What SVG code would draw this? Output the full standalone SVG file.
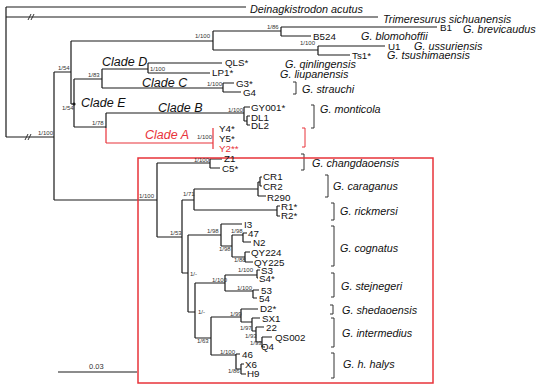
<svg xmlns="http://www.w3.org/2000/svg" width="553" height="385" viewBox="0 0 553 385">
<style>
.b{fill:none;stroke:#1a1a1a;stroke-width:1.2}
.r{fill:none;stroke:#e8333a;stroke-width:1.2}
.k{fill:none;stroke:#333;stroke-width:1}
.kr{fill:none;stroke:#e8333a;stroke-width:1}
.s{font-family:"Liberation Sans",Arial,sans-serif;font-size:6px;fill:#333}
.l{font-family:"Liberation Sans",Arial,sans-serif;font-size:9.8px;fill:#111}
.sp{font-family:"Liberation Sans",Arial,sans-serif;font-size:10.8px;font-style:italic;fill:#111}
.cl{font-family:"Liberation Sans",Arial,sans-serif;font-size:12.5px;font-style:italic;fill:#111}
</style>
<rect width="553" height="385" fill="#fff"/>
<g id="connectors">
<path class="b" d="M6 7H246M6 7V137M6 17H378M6 137H54"/>
<path class="k" d="M28 20L31 14M31 20L34 14M25 140L28 134M28 140L31 134"/>
<path class="b" d="M54 72V200M54 72H71M71 41V104M71 41H213M213 31V50M213 31H281M281 27V36M281 27H437M281 36H311M213 50H318M318 46V55M318 46H385M318 55H350"/>
<path class="b" d="M71 104H74M74 79V127M74 79H102M102 69V88M102 69H148M148 63V73M148 63H222M148 73H210M102 88H223M223 83V92M223 83H234M223 92H241"/>
<path class="b" d="M74 127H106M106 113V128M106 113H244M244 107V121M244 107H250M244 121H247M247 116V125M247 116H250M247 125H250"/>
<path class="r" d="M106 128V143M106 143H213M213 128V149"/>
<circle cx="74" cy="104" r="1.6" fill="#1a1a1a"/>
<path class="b" d="M54 200H157M157 163V237M157 163H210M210 159V168M210 159H222M210 168H220"/>
<path class="b" d="M157 237H182M182 200V273M182 200H194M194 189V210M194 189H258M258 182V196M258 196H266M258 182H260M260 177V186M260 177H262M260 186H262M194 210H277M277 206V216M277 206H280M277 216H280"/>
<path class="b" d="M182 273H188M188 235V312M188 235H221M221 224V246M221 224H242M221 246H232M232 235V257M232 235H243M243 233V242M243 233H247M243 242H251M232 257H245M245 252V262M245 252H250M245 262H253"/>
<path class="b" d="M188 312H195M195 283V338M195 283H225M225 275V291M225 275H257M257 270V278M257 270H260M257 278H258M225 291H253M253 290V298M253 290H259M253 298H257"/>
<path class="b" d="M195 338H211M211 317V355M211 317H241M241 309V322M241 309H258M241 322H252M252 318V331M252 318H260M252 331H256M256 327V342M256 327H264M256 342H262M262 337V347M262 337H272M262 347H265"/>
<path class="b" d="M211 355H236M236 354V369M236 354H240M236 369H241M241 364V374M241 364H244M241 374H246"/>
<path class="b" d="M58 372H137"/>
</g>
<g id="brackets">
<path class="k" d="M293 82H296V94H293M311 105H314V128H311M301 154H304V170H301M325 175H328V197H325M331 203H334V220H331M331 226H334V266H331M331 273H334V297H331M330 305H333V314H330M331 318H334V347H331M331 353H334V378H331"/>
<path class="kr" d="M302 128H305V147H302"/>
</g>
<rect id="box" x="138" y="158" width="295" height="225" fill="none" stroke="#e8333a" stroke-width="1.5"/>
<g id="outgroups">
<text class="sp" x="250" y="13">Deinagkistrodon acutus</text>
<text class="sp" x="383" y="23">Trimeresurus sichuanensis</text>
<text class="l" x="440" y="31">B1</text><text class="sp" x="463" y="33">G. brevicaudus</text>
<text class="l" x="313" y="40">B524</text><text class="sp" x="361" y="40">G. blomohoffii</text>
<text class="l" x="388" y="50">U1</text><text class="sp" x="414" y="50">G. ussuriensis</text>
<text class="l" x="352" y="59">Ts1*</text><text class="sp" x="387" y="59">G. tsushimaensis</text>
</g>
<g id="cladeDCE">
<text class="l" x="225" y="66">QLS*</text><text class="sp" x="285" y="68">G. qinlingensis</text>
<text class="l" x="212" y="76">LP1*</text><text class="sp" x="280" y="78">G. liupanensis</text>
<text class="l" x="236" y="87">G3*</text><text class="l" x="243" y="96">G4</text><text class="sp" x="302" y="93">G. strauchi</text>
<text class="cl" x="102" y="66">Clade D</text>
<text class="cl" x="142" y="87">Clade C</text>
<text class="cl" x="81" y="107">Clade E</text>
<text class="cl" x="158" y="112">Clade B</text>
<text class="l" x="251" y="111">GY001*</text><text class="l" x="251" y="120.5">DL1</text><text class="l" x="251" y="129">DL2</text>
<text class="sp" x="320" y="113">G. monticola</text>
</g>
<g id="cladeA">
<text class="cl" x="145" y="139" style="fill:#e8333a">Clade A</text>
<text class="l" x="219" y="132">Y4*</text><text class="l" x="219" y="142">Y5*</text><text class="l" x="219" y="152" style="fill:#e8333a">Y2**</text>
</g>
<g id="lower">
<text class="l" x="224" y="162">Z1</text><text class="l" x="222" y="172">C5*</text><text class="sp" x="312" y="167">G. changdaoensis</text>
<text class="l" x="263" y="180">CR1</text><text class="l" x="263" y="190">CR2</text><text class="l" x="267" y="201">R290</text><text class="sp" x="333" y="190">G. caraganus</text>
<text class="l" x="281" y="210">R1*</text><text class="l" x="281" y="219">R2*</text><text class="sp" x="340" y="215">G. rickmersi</text>
<text class="l" x="244" y="228">I3</text><text class="l" x="248" y="237">47</text><text class="l" x="253" y="246">N2</text><text class="l" x="251" y="256">QY224</text><text class="l" x="254" y="265.5">QY225</text><text class="sp" x="340" y="252">G. cognatus</text>
<text class="l" x="261" y="273.5">S3</text><text class="l" x="259" y="281.5">S4*</text><text class="l" x="261" y="294">53</text><text class="l" x="259" y="302">54</text><text class="sp" x="341" y="290">G. stejnegeri</text>
<text class="l" x="260" y="312">D2*</text><text class="sp" x="342" y="314">G. shedaoensis</text>
<text class="l" x="262" y="322">SX1</text><text class="l" x="266" y="331">22</text><text class="l" x="275" y="341">QS002</text><text class="l" x="261" y="350">Q4</text><text class="sp" x="342" y="337">G. intermedius</text>
<text class="l" x="242" y="358">46</text><text class="l" x="245" y="368">X6</text><text class="l" x="247" y="377">H9</text><text class="sp" x="343" y="368">G. h. halys</text>
<text class="s" x="89" y="369" style="font-size:7.5px">0.03</text>
</g>
<g id="support">
<text class="s" x="38" y="135">1/100</text>
<text class="s" x="58" y="70">1/54</text>
<text class="s" x="62" y="110">1/54</text>
<text class="s" x="88" y="77">1/83</text>
<text class="s" x="92" y="125">1/78</text>
<text class="s" x="195" y="38">1/100</text>
<text class="s" x="267" y="29">1/86</text>
<text class="s" x="300" y="45">1/100</text>
<text class="s" x="150" y="71">1/100</text>
<text class="s" x="207" y="86">1/100</text>
<text class="s" x="228" y="112">1/100</text>
<text class="s" x="197" y="139">1/100</text>
<text class="s" x="139" y="198">1/100</text>
<text class="s" x="194" y="162">1/100</text>
<text class="s" x="170" y="235">1/53</text>
<text class="s" x="183" y="196">1/71</text>
<text class="s" x="207" y="233">1/98</text>
<text class="s" x="231" y="233">1/98</text>
<text class="s" x="219" y="251">1/98</text>
<text class="s" x="234" y="262">1/88</text>
<text class="s" x="190" y="276">1/-</text>
<text class="s" x="212" y="282">1/100</text>
<text class="s" x="238" y="272">1/100</text>
<text class="s" x="237" y="290">1/100</text>
<text class="s" x="198" y="314">1/-</text>
<text class="s" x="197" y="343">1/63</text>
<text class="s" x="230" y="316">1/99</text>
<text class="s" x="240" y="330">1/97</text>
<text class="s" x="245" y="338">1/93</text>
<text class="s" x="250" y="345">1/93</text>
<text class="s" x="220" y="354">1/100</text>
<text class="s" x="228" y="373">1/86</text>
</g>
</svg>
